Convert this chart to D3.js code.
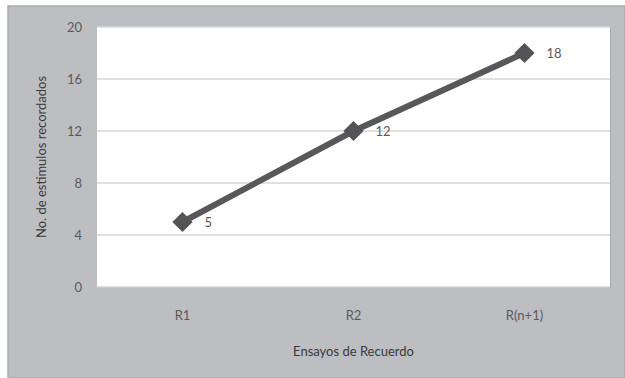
<!DOCTYPE html>
<html>
<head>
<meta charset="utf-8">
<script src="https://cdn.jsdelivr.net/npm/d3@7"></script>
<style>
  html, body { margin: 0; padding: 0; background: #ffffff; }
  svg { display: block; }
  text { font-family: Lato, "Open Sans", sans-serif; }
</style>
</head>
<body>
<svg id="chart" width="625" height="378"></svg>
<script>
// Recall trials and number of stimuli recalled
const categories = ["R1", "R2", "R(n+1)"];
const values = [5, 12, 18];
const yTicks = [0, 4, 8, 12, 16, 20];
const xTitle = "Ensayos de Recuerdo";
const yTitle = "No. de estimulos recordados";

const svg = d3.select("#chart");
const W = 625, H = 378;
const plot = { left: 97, right: 610, top: 27, bottom: 287 };

// Outer chart frame
svg.append("rect")
  .attr("x", 8).attr("y", 6).attr("width", W - 8).attr("height", H - 6)
  .attr("fill", "#bdbec2").attr("stroke", "#a9aaae").attr("stroke-width", 1.5);

const x = d3.scaleBand().domain(categories).range([plot.left, plot.right]);
const y = d3.scaleLinear().domain([0, 20]).range([plot.bottom, plot.top]);

// Plot area with soft shadow
svg.append("rect")
  .attr("x", plot.left + 1).attr("y", plot.top + 1)
  .attr("width", plot.right - plot.left).attr("height", plot.bottom - plot.top)
  .attr("fill", "#a8a9ad");
svg.append("rect")
  .attr("x", plot.left).attr("y", plot.top)
  .attr("width", plot.right - plot.left).attr("height", plot.bottom - plot.top)
  .attr("fill", "#ffffff");

// Horizontal gridlines
svg.append("g").selectAll("line").data(yTicks).join("line")
  .attr("x1", plot.left).attr("x2", plot.right)
  .attr("y1", d => y(d)).attr("y2", d => y(d))
  .attr("stroke", "#d6d6d8").attr("stroke-width", 1.5);

// Y axis labels
const yAxis = svg.append("g")
  .attr("transform", `translate(${plot.left},0)`)
  .call(d3.axisLeft(y).tickValues(yTicks).tickSize(0).tickPadding(15));
yAxis.select(".domain").remove();
yAxis.selectAll("text").attr("font-size", 13).attr("fill", "#5a5a5c")
  .style("font-family", "Lato, 'Open Sans', sans-serif");

// X axis labels
const xAxis = svg.append("g")
  .attr("transform", `translate(0,${plot.bottom})`)
  .call(d3.axisBottom(x).tickSize(0).tickPadding(24));
xAxis.select(".domain").remove();
xAxis.selectAll("text").attr("font-size", 13).attr("fill", "#5a5a5c")
  .style("font-family", "Lato, 'Open Sans', sans-serif");

// Axis titles
svg.append("text")
  .attr("x", x("R2") + x.bandwidth() / 2).attr("y", 356)
  .attr("text-anchor", "middle").attr("font-size", 13).attr("fill", "#3a3a3c")
  .text(xTitle);
svg.append("text")
  .attr("transform", `translate(46,${(plot.top + plot.bottom) / 2}) rotate(-90)`)
  .attr("text-anchor", "middle").attr("font-size", 13).attr("fill", "#3a3a3c")
  .text(yTitle);

const cx = d => x(d) + x.bandwidth() / 2;
const data = categories.map((c, i) => ({ c, v: values[i] }));

// Series line
svg.append("path")
  .datum(data)
  .attr("fill", "none").attr("stroke", "#58585a").attr("stroke-width", 6)
  .attr("d", d3.line().x(d => cx(d.c)).y(d => y(d.v)));

// Diamond markers
svg.append("g").selectAll("path").data(data).join("path")
  .attr("transform", d => `translate(${cx(d.c)},${y(d.v)})`)
  .attr("d", d3.symbol().type(d3.symbolDiamond2).size(260))
  .attr("fill", "#545456");

// Value labels
svg.append("g").selectAll("text").data(data).join("text")
  .attr("x", d => cx(d.c) + 22).attr("y", d => y(d.v) + 5)
  .attr("font-size", 13).attr("fill", "#5a5a5c")
  .text(d => d.v);
</script>
</body>
</html>
